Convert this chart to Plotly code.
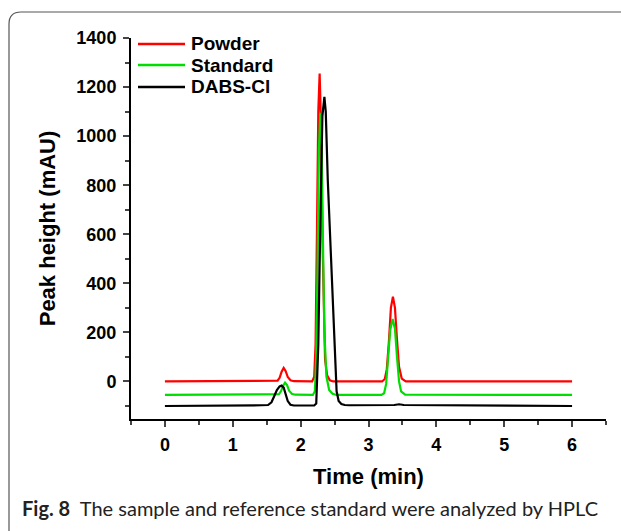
import plotly.graph_objects as go

# ---- data ----
powder_t = [0.0, 1.62, 1.66, 1.69, 1.72, 1.75, 1.78, 1.81, 1.85, 1.90,
            2.17, 2.20, 2.22, 2.24, 2.26, 2.28, 2.30, 2.32, 2.34, 2.36, 2.39, 2.43, 2.48,
            3.20, 3.24, 3.27, 3.30, 3.33, 3.36, 3.39, 3.42, 3.45, 3.49, 3.55, 6.0]
powder_v = [0, 0, 3, 15, 40, 55, 42, 18, 5, 1,
            0, 20, 150, 600, 1100, 1255, 1050, 600, 250, 90, 25, 5, 0,
            0, 10, 50, 160, 300, 345, 300, 170, 60, 12, 0, 0]

standard_t = [0.0, 1.64, 1.68, 1.71, 1.74, 1.77, 1.80, 1.83, 1.87, 1.92,
              2.18, 2.21, 2.23, 2.25, 2.27, 2.29, 2.31, 2.33, 2.35, 2.38, 2.42, 2.47, 2.53,
              3.19, 3.23, 3.26, 3.29, 3.32, 3.355, 3.39, 3.42, 3.45, 3.48, 3.54, 6.0]
standard_v = [-55, -55, -52, -40, -18, -5, -15, -38, -50, -54,
              -55, -40, 100, 500, 950, 1095, 950, 550, 200, 20, -35, -50, -55,
              -55, -48, -10, 90, 210, 255, 215, 100, 0, -40, -54, -55]

dabs_t = [0.0, 1.30, 1.42, 1.52, 1.57, 1.61, 1.65, 1.69, 1.72, 1.75, 1.78, 1.81, 1.85, 1.90, 2.00,
          2.20, 2.23, 2.26, 2.29, 2.32, 2.35, 2.37, 2.40, 2.45, 2.50, 2.53, 2.56, 2.60, 2.65, 2.72,
          3.38, 3.45, 3.52, 6.0]
dabs_v = [-100, -100, -97, -96, -85, -60, -35, -20, -17, -25, -50, -80, -95, -98, -98,
          -98, -90, 150, 650, 1080, 1160, 1100, 820, 470, 130, -40, -80, -92, -96, -97,
          -96, -93, -96, -100]

series_names = ["Powder", "Standard", "DABS-Cl"]
series_colors = ["#ff0000", "#00dd00", "#000000"]

x_ticks = [0, 1, 2, 3, 4, 5, 6]
y_ticks = [0, 200, 400, 600, 800, 1000, 1200, 1400]

# ---- layout geometry (pixels) ----
W, H = 621, 531
L, R, T, B = 131, 606, 38, 419


def px(x):
    return (x - L) / (R - L)


def py(y):
    return (B - y) / (B - T)


fig = go.Figure()
for name, color, t, v in zip(series_names, series_colors,
                             [powder_t, standard_t, dabs_t],
                             [powder_v, standard_v, dabs_v]):
    fig.add_trace(go.Scatter(x=t, y=v, mode="lines", name=name, showlegend=False,
                             line=dict(color=color, width=2.2)))

bold = dict(family="Liberation Sans, Arial", color="black", weight="bold")
axis_font = dict(bold, size=18)

fig.update_layout(
    width=W, height=H,
    margin=dict(l=L, r=W - R, t=T, b=H - B, autoexpand=False),
    paper_bgcolor="white", plot_bgcolor="white",
    showlegend=False,
    xaxis=dict(range=[-0.5, 6.5], tickvals=x_ticks, ticks="outside", ticklen=6, tickwidth=2,
               showline=True, linewidth=2, linecolor="black", showgrid=False, zeroline=False,
               tickfont=axis_font, ticklabelstandoff=2, automargin=False,
               minor=dict(dtick=0.5, tick0=0, ticks="outside", ticklen=4, tickwidth=2),
               title=dict(text="Time (min)", standoff=15, font=dict(bold, size=22))),
    yaxis=dict(range=[-153, 1400], tickvals=y_ticks, ticks="outside", ticklen=6, tickwidth=2,
               showline=True, linewidth=2, linecolor="black", showgrid=False, zeroline=False,
               tickfont=axis_font, ticklabelstandoff=3, automargin=False,
               minor=dict(dtick=100, tick0=0, ticks="outside", ticklen=4, tickwidth=2),
               title=dict(text="Peak height (mAU)", standoff=15, font=dict(bold, size=22))),
)

# legend (drawn inside the plot, top-left)
legend_rows_y = [44, 65, 87]
for name, color, ry in zip(series_names, series_colors, legend_rows_y):
    fig.add_shape(type="line", xref="paper", yref="paper",
                  x0=px(138), x1=px(185), y0=py(ry), y1=py(ry),
                  line=dict(color=color, width=2.5))
    fig.add_annotation(x=px(189), y=py(ry), xref="paper", yref="paper",
                       xanchor="left", yanchor="middle", showarrow=False,
                       text=name, font=dict(bold, size=19))

# rounded frame of the figure panel
x0, y0, r = 9, 12, 12
path = (f"M {px(x0)},{py(545)} L {px(x0)},{py(y0 + r)} "
        f"Q {px(x0)},{py(y0)} {px(x0 + r)},{py(y0)} L {px(640)},{py(y0)}")
fig.add_shape(type="path", path=path, xref="paper", yref="paper",
              line=dict(color="#555555", width=1.2))

# caption
fig.add_annotation(x=px(20), y=py(508), xref="paper", yref="paper", xanchor="left", yanchor="middle",
                   showarrow=False,
                   text="<b>Fig. 8</b>  The sample and reference standard were analyzed by HPLC",
                   font=dict(family="Lato", size=20, color="#222222"))

fig.write_html("out.html", config={"displayModeBar": False},
               post_script="document.body.style.margin='0';")
